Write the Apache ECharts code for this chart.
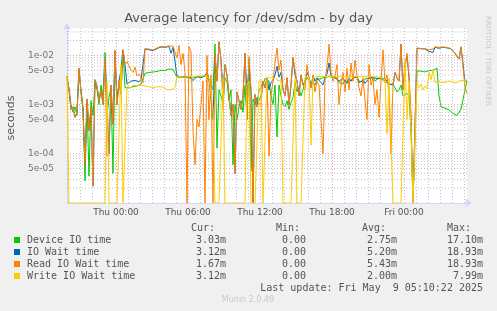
<!DOCTYPE html>
<html>
<head>
<meta charset="utf-8">
<title>Average latency for /dev/sdm - by day</title>
<script src="https://cdn.jsdelivr.net/npm/echarts@6/dist/echarts.min.js"></script>
<style>
  html, body { margin: 0; padding: 0; background: #f0f0f0; }
  #chart { width: 497px; height: 311px; }
</style>
</head>
<body>
<div id="chart"></div>
<script>
// x = hours relative to Thu 00:00, one sample every 10 minutes
const startHour = -4.083;
const stepHour = 1 / 6;

// tick labels
const xTickHours = [0, 6, 12, 18, 24];
const xTickLabels = ["Thu 00:00", "Thu 06:00", "Thu 12:00", "Thu 18:00", "Fri 00:00"];
const yTickValues = [1e-2, 5e-3, 1e-3, 5e-4, 1e-4, 5e-5];
const yTickLabels = ["1e-02", "5e-03", "1e-03", "5e-04", "1e-04", "5e-05"];
const yMinorSteps = [2, 3, 4, 6, 7, 8, 9];
const yDecades = [1e-5, 1e-4, 1e-3, 1e-2];

// values in milliseconds (0 = no activity, drawn on the floor of the log axis)
const deviceMs = [
  3.3, 2.2, 1.0, 0.7, 0.9, 0.6, 4.8, 2.0, 0.9, 0.028,
  1.1, 0.035, 1.2, 0.6, 2.8, 2.0, 1.0, 2.5, 1.5, 11.5,
  0.6, 1.4, 2.1, 0.04, 9.0, 1.4, 2.5, 1.6, 12, 2.2,
  2.3, 2.2, 2.4, 2.3, 2.5, 2.4, 2.3, 2.6, 2.4, 4.3,
  4.4, 4.5, 4.4, 4.6, 4.5, 4.7, 4.6, 5.0, 5.2, 4.9,
  5.1, 5.3, 5.0, 5.2, 5.1, 3.6, 3.7, 3.6, 3.8, 3.6,
  3.7, 3.5, 3.6, 3.5, 3.6, 3.7, 3.6, 3.5, 3.6, 3.8,
  3.5, 3.2, 3.0, 2.0, 17.1, 0.13, 2.0, 1.5, 1.0, 3.5,
  3.0, 1.2, 2.0, 0.06, 1.0, 0.5, 0.9, 1.2, 0.7, 2.5,
  0.5, 8.5, 0.045, 1.3, 1.0, 1.4, 1.2, 1.5, 2.5, 3.4,
  3.6, 3.0, 1.5, 1.0, 2.5, 0.22, 2.5, 1.5, 1.0, 0.9,
  1.2, 0.8, 1.1, 1.4, 2.8, 1.8, 2.2, 1.5, 2.0, 3.0,
  3.5, 3.6, 2.8, 3.0, 2.5, 3.2, 3.5, 3.4, 3.3, 3.6,
  3.5, 3.7, 3.4, 3.6, 3.5, 3.3, 2.8, 3.0, 2.6, 3.2,
  2.8, 3.4, 3.0, 3.5, 3.3, 3.6, 3.0, 3.2, 2.9, 3.3,
  3.1, 3.5, 3.4, 3.6, 3.0, 3.3, 3.1, 3.4, 3.2, 3.0,
  2.8, 2.6, 2.8, 2.6, 2.2, 1.8, 2.0, 2.5, 1.5, 1.6,
  1.7, 1.5, 0.3, 0, 0, 4.8, 4.7, 4.8, 4.7, 4.6,
  4.8, 4.9, 5.0, 5.0, 5.3, 5.5, 1.5, 0.9, 0.88, 0.85,
  0.8, 0.78, 0.75, 0.66, 0.62, 0.6, 0.65, 0.8, 0.85, 2.0,
  3.03
];
const ioWaitMs = [
  3.7, 2.0, 0.8, 0.9, 0.55, 0.7, 5.5, 1.8, 0.8, 0.06,
  1.3, 0.3, 0.9, 0.022, 3.2, 2.4, 1.2, 2.0, 1.0, 8.5,
  1.2, 0.1, 2.5, 0.4, 12.5, 1.0, 3.0, 5.0, 13, 6.5,
  2.6, 2.8, 3.0, 2.9, 3.1, 3.0, 2.9, 3.2, 3.4, 13.5,
  13.2, 13.0, 12.2, 12.5, 13.5, 13.8, 14.0, 14.8, 15.0, 14.6,
  14.2, 15.2, 11.0, 14.5, 15.0, 3.8, 3.8, 3.7, 3.9, 3.7,
  3.6, 3.7, 3.8, 3.1, 3.4, 3.7, 3.6, 3.6, 3.7, 3.9,
  4.5, 3.3, 3.4, 0.5, 11, 3.0, 18.9, 8, 2.0, 6.5,
  4.0, 1.5, 0.6, 1.0, 0.04, 1.8, 1.2, 0.8, 1.5, 11,
  1.5, 6.0, 2.0, 0, 1.6, 0.9, 2.0, 2.2, 3.0, 2.2,
  3.5, 2.0, 2.8, 3.1, 4.0, 6.0, 3.6, 4.5, 2.0, 1.5,
  3.5, 1.0, 2.5, 9.0, 4.0, 3.0, 1.5, 4.0, 2.5, 3.0,
  4.5, 3.6, 2.2, 3.8, 3.0, 3.5, 3.3, 2.8, 2.5, 3.5,
  4.2, 7.0, 3.8, 3.5, 3.7, 3.5, 3.0, 3.2, 3.4, 3.0,
  2.7, 3.3, 3.0, 3.5, 3.6, 3.7, 2.8, 2.6, 3.1, 2.7,
  2.9, 3.4, 3.3, 3.5, 3.2, 3.4, 3.3, 3.5, 3.6, 3.3,
  3.0, 2.6, 2.5, 2.5, 4.5, 3.5, 3.0, 17, 2.0, 6.5,
  10, 3.5, 0.5, 0, 0, 14.0, 13.8, 13.6, 13.8, 13.5,
  13.2, 12.0, 11.0, 11.5, 14.5, 14.8, 14.0, 14.2, 14.6, 14.0,
  14.2, 14.6, 13.6, 12.2, 11.0, 9.5, 8.4, 14.8, 15.5, 3.0,
  3.12
];
const readMs = [
  3.8, 2.0, 0.8, 0.9, 0.55, 0.7, 5.5, 1.8, 0.8, 0.06,
  1.3, 0.3, 0.9, 0.022, 3.2, 2.4, 1.2, 2.0, 1.0, 8.5,
  0.09, 0.1, 2.5, 0.4, 12.5, 1.0, 3.0, 1.8, 13, 6.5,
  7.5, 8.0, 5.0, 4.5, 5.8, 3.8, 4.2, 3.5, 2.8, 13.8,
  13.5, 13.4, 12.6, 12.9, 13.8, 14.2, 14.5, 15.2, 15.5, 15.0,
  14.6, 15.6, 14.8, 15.4, 15.5, 9.0, 16.0, 6.5, 11.0, 4.5,
  0, 15, 12, 0.3, 0.06, 0.5, 0.35, 1.0, 3.0, 0,
  10, 0.5, 4.0, 0, 11, 3.0, 18.93, 8, 0.8, 6.5,
  4.0, 1.5, 0.6, 1.0, 0.04, 1.8, 1.2, 0.8, 1.5, 11,
  0.5, 9.5, 2.0, 0, 1.6, 0.9, 1.1, 1.0, 3.0, 2.2,
  3.4, 0.09, 1.5, 3.0, 7.0, 14, 5.0, 8.0, 2.0, 1.5,
  3.5, 1.0, 2.5, 9.0, 5.0, 3.0, 1.5, 4.0, 2.5, 2.0,
  6.5, 3.5, 2.2, 4.0, 1.8, 3.0, 2.5, 0.5, 0.1, 3.0,
  6.0, 17, 4.5, 3.0, 3.8, 6.5, 1.0, 2.5, 4.5, 1.8,
  5.5, 2.0, 7.0, 3.0, 8.0, 4.0, 2.2, 1.5, 3.5, 1.2,
  0.5, 6.5, 2.5, 3.5, 1.0, 2.0, 0.55, 3.0, 13, 2.8,
  4.0, 1.5, 0.1, 2.5, 4.5, 3.5, 3.0, 17, 2.0, 6.0,
  11, 4.0, 0.6, 0, 0, 14.2, 14.0, 13.8, 14.0, 13.7,
  13.6, 13.0, 12.5, 13.5, 15.0, 15.2, 14.5, 14.4, 14.8, 14.3,
  14.5, 14.8, 13.8, 12.5, 11.2, 9.6, 8.6, 15.0, 15.6, 2.2,
  1.67
];
const writeMs = [
  3.9, 0, 0, 0, 0, 0, 0, 0, 0, 0,
  0, 0, 0, 0, 0, 0, 0, 0, 0, 0,
  3.0, 0, 0, 0, 0, 0, 0, 6.5, 0, 0,
  2.3, 2.1, 2.2, 2.5, 2.3, 2.4, 2.2, 2.5, 2.3, 2.4,
  2.6, 2.3, 2.5, 2.2, 2.4, 2.3, 2.2, 2.3, 2.1, 2.2,
  2.0, 2.1, 2.0, 2.1, 2.2, 3.7, 3.6, 3.7, 3.8, 3.6,
  3.7, 3.8, 3.7, 3.6, 3.7, 3.8, 3.7, 3.8, 3.7, 3.8,
  3.6, 3.5, 3.3, 0.8, 0, 0, 0, 0, 3.5, 0,
  0, 0, 0, 0, 0, 0, 0, 0, 0, 0,
  2.5, 3.0, 0, 0, 0, 0, 3.0, 3.3, 0, 0,
  3.6, 3.4, 3.5, 3.2, 3.5, 3.4, 3.0, 3.3, 0, 0,
  0, 0, 0, 0, 3.4, 0, 0, 0, 0, 3.6,
  3.7, 3.6, 0.15, 3.5, 3.6, 3.7, 3.6, 3.7, 3.5, 3.7,
  3.6, 3.8, 3.6, 3.7, 3.6, 3.7, 3.6, 3.7, 3.6, 3.7,
  3.6, 3.7, 3.6, 3.7, 3.8, 3.7, 3.6, 3.7, 3.6, 3.7,
  3.6, 3.7, 3.6, 3.7, 3.6, 3.7, 3.6, 3.5, 3.7, 3.2,
  0.25, 3.5, 3.6, 0, 0, 0, 0, 0, 0, 7.99,
  0.5, 3.0, 0.3, 0, 0, 2.8, 2.2, 2.6, 2.0, 2.4,
  2.1, 4.5, 3.2, 5.0, 2.8, 2.7, 2.9, 3.0, 2.8, 2.7,
  2.9, 3.1, 3.0, 2.8, 2.7, 2.9, 3.0, 3.0, 3.1, 3.2,
  3.12
];

// legend table
const seriesNames = ["Device IO time", "IO Wait time", "Read IO Wait time", "Write IO Wait time"];
const seriesColors = ["#00cc00", "#0066b3", "#ff8000", "#ffcc00"];
const curVals = ["3.03m", "3.12m", "1.67m", "3.12m"];
const minVals = ["0.00", "0.00", "0.00", "0.00"];
const avgVals = ["2.75m", "5.20m", "5.43m", "2.00m"];
const maxVals = ["17.10m", "18.93m", "18.93m", "7.99m"];

const yMin = 1e-5, yMax = 0.036;
const xMin = startHour, xMax = startHour + 200 * stepHour;

const textColor = "#555";
const majorGrid = { color: "rgba(220, 120, 120, 0.7)", type: [1, 2], width: 1 };
const minorGrid = { color: "rgba(170, 170, 170, 0.7)", type: [1, 2], width: 1 };

function toPoints(ms) {
  return ms.map((v, i) => [startHour + i * stepHour, v > 0 ? v / 1000 : yMin]);
}

// horizontal grid lines: one broken line per class, drawn through the log axis
function hLines(values) {
  const pts = [];
  values.forEach(v => { pts.push([xMin, v], [xMax, v], [xMax, "-"]); });
  return pts;
}
const minorValues = [];
yDecades.forEach(d => {
  yMinorSteps.forEach(m => { if (m * d < yMax) minorValues.push(m * d); });
});

// vertical grid lines + x labels as mark lines on the value x axis
const vLines = [];
for (let h = Math.ceil(xMin); h <= Math.floor(xMax); h++) {
  const k = xTickHours.indexOf(h);
  vLines.push({
    xAxis: h, lineStyle: k >= 0 ? majorGrid : minorGrid,
    label: k >= 0
      ? { show: true, position: "start", distance: 5, formatter: xTickLabels[k],
          color: textColor, fontSize: 9, fontFamily: "DejaVu Sans" }
      : { show: false }
  });
}

function lineSeries(name, ms, color, z) {
  return {
    name: name, type: "line", data: toPoints(ms), z: z,
    symbol: "none", clip: true, silent: true,
    lineStyle: { color: color, width: 1 },
    itemStyle: { color: color }
  };
}

// legend rows drawn as text
const legendGraphic = [];
const mono = "10px DejaVu Sans Mono";
[["Cur:", 191], ["Min:", 276], ["Avg:", 362], ["Max:", 447]].forEach(h => {
  legendGraphic.push({ type: "text", x: h[1], y: 228,
    style: { text: h[0], font: mono, fill: textColor, align: "left", verticalAlign: "middle" } });
});
seriesNames.forEach((name, k) => {
  const y = 240 + k * 12;
  legendGraphic.push({ type: "rect", shape: { x: 14, y: y - 3, width: 6, height: 6 },
    style: { fill: seriesColors[k] } });
  legendGraphic.push({ type: "text", x: 27, y: y,
    style: { text: name, font: mono, fill: textColor, align: "left", verticalAlign: "middle" } });
  [[curVals[k], 226], [minVals[k], 306], [avgVals[k], 397], [maxVals[k], 483]].forEach(c => {
    legendGraphic.push({ type: "text", x: c[1], y: y,
      style: { text: c[0], font: mono, fill: textColor, align: "right", verticalAlign: "middle" } });
  });
});
legendGraphic.push({ type: "text", x: 483, y: 288,
  style: { text: "Last update: Fri May  9 05:10:22 2025", font: mono, fill: textColor,
    align: "right", verticalAlign: "middle" } });

const chart = echarts.init(document.getElementById("chart"), null, { renderer: "canvas" });
chart.setOption({
  backgroundColor: "#f0f0f0",
  animation: false,
  title: {
    text: "Average latency for /dev/sdm - by day",
    left: "center", top: 12, padding: 0,
    textStyle: { fontFamily: "DejaVu Sans", fontSize: 13, fontWeight: "normal", color: textColor }
  },
  grid: {
    left: 67, right: 30, top: 28, bottom: 108,
    show: true, backgroundColor: "#ffffff", borderWidth: 0
  },
  xAxis: {
    type: "value", min: xMin, max: xMax,
    axisLine: { show: true, onZero: false, lineStyle: { color: "#cfd6f8" },
      symbol: ["none", "arrow"], symbolSize: [6, 7], symbolOffset: [0, 5] },
    axisTick: { show: false }, axisLabel: { show: false }, splitLine: { show: false }
  },
  yAxis: {
    type: "log", logBase: 10, min: yMin, max: yMax,
    axisLine: { show: true, onZero: false, lineStyle: { color: "#cfd6f8" },
      symbol: ["none", "arrow"], symbolSize: [6, 7], symbolOffset: [0, 5] },
    axisTick: { show: false }, axisLabel: { show: false }, splitLine: { show: false }
  },
  series: [
    {
      name: "minor grid", type: "line", data: hLines(minorValues), z: 1, silent: true,
      symbol: "none", connectNulls: false, lineStyle: minorGrid
    },
    {
      name: "major grid", type: "line", data: hLines(yTickValues), z: 1, silent: true,
      symbol: "none", connectNulls: false, lineStyle: majorGrid,
      markLine: { silent: true, symbol: ["none", "none"], animation: false, data: vLines }
    },
    {
      name: "y labels", type: "scatter", z: 1, silent: true, symbolSize: 0,
      data: yTickValues.map((v, k) => ({ value: [xMin, v], name: yTickLabels[k] })),
      label: { show: true, position: "left", distance: 13, formatter: "{b}",
        color: textColor, fontSize: 9, fontFamily: "DejaVu Sans" }
    },
    lineSeries(seriesNames[0], deviceMs, seriesColors[0], 2),
    lineSeries(seriesNames[1], ioWaitMs, seriesColors[1], 3),
    lineSeries(seriesNames[2], readMs, seriesColors[2], 4),
    lineSeries(seriesNames[3], writeMs, seriesColors[3], 5)
  ],
  graphic: [
    { type: "text", x: 11, y: 118, rotation: Math.PI / 2,
      style: { text: "seconds", font: "11px DejaVu Sans", fill: textColor, align: "center", verticalAlign: "middle" } },
    { type: "text", x: 488, y: 61, rotation: -Math.PI / 2,
      style: { text: "RRDTOOL / TOBI OETIKER", font: "7px DejaVu Sans", fill: "#c8c8c8", align: "center", verticalAlign: "middle" } },
    { type: "text", x: 248, y: 300,
      style: { text: "Munin 2.0.49", font: "8px DejaVu Sans", fill: "#c8c8c8", align: "center", verticalAlign: "middle" } }
  ].concat(legendGraphic)
});
</script>
</body>
</html>
